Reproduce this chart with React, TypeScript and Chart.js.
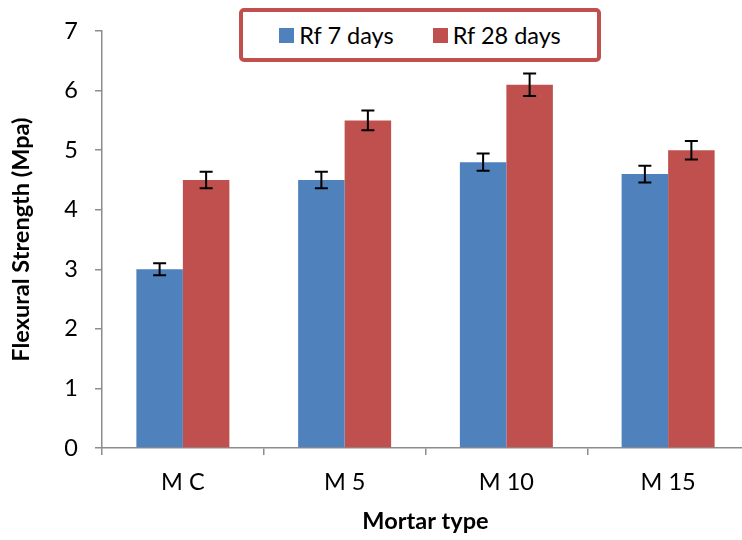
import React, { useEffect, useRef } from "react";
import { Chart, registerables } from "chart.js";

Chart.register(...registerables);

const categories = ["M C", "M 5", "M 10", "M 15"];
const rf7 = [3.0, 4.5, 4.8, 4.6];
const rf28 = [4.5, 5.5, 6.1, 5.0];
const rf7Err = [0.1, 0.14, 0.145, 0.14];
const rf28Err = [0.14, 0.165, 0.19, 0.155];
const seriesNames = ["Rf 7 days", "Rf 28 days"];
const seriesColors = ["#4F81BD", "#C0504D"];
const yTicks = [0, 1, 2, 3, 4, 5, 6, 7];

const FONT = "Lato, 'Open Sans', sans-serif";
const FS = 23.5;

const errorBarPlugin = {
  id: "errorBars",
  afterDatasetsDraw(chart: any) {
    const ctx = chart.ctx;
    const yScale = chart.scales.y;
    chart.data.datasets.forEach((ds: any, di: number) => {
      const meta = chart.getDatasetMeta(di);
      const errs: number[] = ds.errors || [];
      meta.data.forEach((bar: any, i: number) => {
        const v = ds.data[i];
        const e = errs[i] || 0;
        const x = bar.x;
        const yt = yScale.getPixelForValue(v + e);
        const yb = yScale.getPixelForValue(v - e);
        const cap = 6.5;
        ctx.save();
        ctx.strokeStyle = "#000";
        ctx.lineWidth = 2;
        ctx.beginPath();
        ctx.moveTo(x, yt);
        ctx.lineTo(x, yb);
        ctx.moveTo(x - cap, yt);
        ctx.lineTo(x + cap, yt);
        ctx.moveTo(x - cap, yb);
        ctx.lineTo(x + cap, yb);
        ctx.stroke();
        ctx.restore();
      });
    });
  },
};

export default function App() {
  const ref = useRef<HTMLCanvasElement | null>(null);

  useEffect(() => {
    if (!ref.current) return;
    const chart = new Chart(ref.current, {
      type: "bar",
      data: {
        labels: categories,
        datasets: [
          {
            label: seriesNames[0],
            data: rf7,
            backgroundColor: seriesColors[0],
            errors: rf7Err,
            categoryPercentage: 0.575,
            barPercentage: 1,
          } as any,
          {
            label: seriesNames[1],
            data: rf28,
            backgroundColor: seriesColors[1],
            errors: rf28Err,
            categoryPercentage: 0.575,
            barPercentage: 1,
          } as any,
        ],
      },
      options: {
        responsive: false,
        animation: false,
        layout: { padding: { top: 24, right: 1, left: 0, bottom: 0 } },
        plugins: {
          legend: { display: false },
          tooltip: { enabled: false },
        },
        scales: {
          x: {
            grid: {
              display: true,
              drawOnChartArea: false,
              drawTicks: true,
              tickLength: 7,
              color: "#8c8c8c",
              lineWidth: 1.5,
              offset: true,
            },
            border: { color: "#8c8c8c", width: 1.5 },
            ticks: {
              color: "#000",
              font: { family: FONT, size: FS },
              padding: 13,
            },
            title: {
              display: true,
              text: "Mortar type",
              color: "#000",
              font: { family: FONT, size: FS, weight: "bold" },
              padding: { top: 0, bottom: 4 },
            },
            afterFit(scale: any) {
              scale.height = 92;
            },
          },
          y: {
            min: 0,
            max: 7,
            afterBuildTicks(scale: any) {
              scale.ticks = yTicks.map((v) => ({ value: v }));
            },
            grid: {
              display: true,
              drawOnChartArea: false,
              drawTicks: true,
              tickLength: 7,
              color: "#8c8c8c",
              lineWidth: 1.5,
            },
            border: { color: "#8c8c8c", width: 1.5 },
            ticks: {
              color: "#000",
              font: { family: FONT, size: FS },
              padding: 17,
            },
            title: {
              display: true,
              text: "Flexural Strength (Mpa)",
              color: "#000",
              font: { family: FONT, size: FS, weight: "bold" },
              padding: { top: 7, bottom: 0 },
            },
            afterFit(scale: any) {
              scale.width = 102;
            },
          },
        },
      },
      plugins: [errorBarPlugin],
    });
    return () => chart.destroy();
  }, []);

  return (
    <div
      style={{
        position: "fixed",
        left: 0,
        top: 0,
        width: 742,
        height: 540,
        overflow: "hidden",
        background: "#fff",
      }}
    >
      <canvas ref={ref} width={750} height={540} style={{ display: "block" }} />
      <div
        style={{
          position: "absolute",
          left: 239,
          top: 8,
          width: 362,
          height: 54,
          boxSizing: "border-box",
          border: "4px solid #C0504D",
          borderRadius: 5,
          background: "#fff",
          display: "flex",
          alignItems: "center",
          justifyContent: "center",
          gap: 39,
          fontFamily: FONT,
          fontSize: FS,
          color: "#000",
        }}
      >
        {seriesNames.map((n, i) => (
          <div key={n} style={{ display: "flex", alignItems: "center", gap: 5 }}>
            <span
              style={{
                display: "inline-block",
                width: 15,
                height: 15,
                background: seriesColors[i],
              }}
            />
            <span>{n}</span>
          </div>
        ))}
      </div>
    </div>
  );
}
